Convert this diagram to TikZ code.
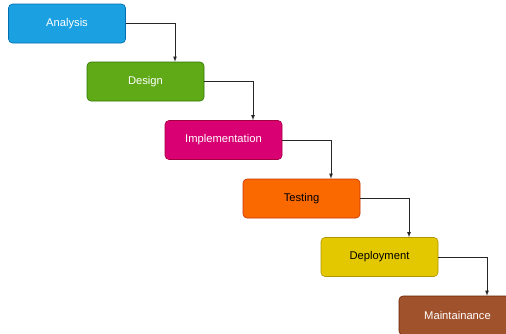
\documentclass[tikz,border=0pt]{standalone}
\usepackage{fontspec}
\setmainfont{Liberation Sans}
\usetikzlibrary{arrows}

\definecolor{anafill}{HTML}{1BA1E2}\definecolor{anadraw}{HTML}{006EAF}
\definecolor{desfill}{HTML}{60A917}\definecolor{desdraw}{HTML}{2D7600}
\definecolor{impfill}{HTML}{D80073}\definecolor{impdraw}{HTML}{A50040}
\definecolor{tstfill}{HTML}{FA6800}\definecolor{tstdraw}{HTML}{C73500}
\definecolor{depfill}{HTML}{E3C800}\definecolor{depdraw}{HTML}{B09500}
\definecolor{mntfill}{HTML}{A0522D}\definecolor{mntdraw}{HTML}{6D1F00}

\begin{document}
\begin{tikzpicture}[x=1pt, y=-1pt,
    phase/.style={rounded corners=4pt, minimum width=117pt, minimum height=39pt,
        font=\fontsize{11.2}{13}\selectfont, line width=0.6pt},
    flow/.style={-latex, line width=0.8pt, draw=black!85}]

    \clip (0,0) rectangle (506,333);

    \node [phase, fill=anafill, draw=anadraw, text=white] (analysis) at (67,23.5) {Analysis};
    \node [phase, fill=desfill, draw=desdraw, text=white] (design) at (145.5,81.5) {Design};
    \node [phase, fill=impfill, draw=impdraw, text=white] (implementation) at (223.5,140) {Implementation};
    \node [phase, fill=tstfill, draw=tstdraw, text=black] (testing) at (301.5,198.5) {Testing};
    \node [phase, fill=depfill, draw=depdraw, text=black] (deployment) at (379.5,257) {Deployment};
    \node [phase, fill=mntfill, draw=mntdraw, text=white] (maintainance) at (457.5,315.5) {Maintainance};

    \draw [flow] (analysis.east) -| ([xshift=29.5pt]design.north);
    \draw [flow] (design.east) -| ([xshift=29.5pt]implementation.north);
    \draw [flow] (implementation.east) -| ([xshift=29.5pt]testing.north);
    \draw [flow] (testing.east) -| ([xshift=29.5pt]deployment.north);
    \draw [flow] (deployment.east) -| ([xshift=29.5pt]maintainance.north);

\end{tikzpicture}
\end{document}
